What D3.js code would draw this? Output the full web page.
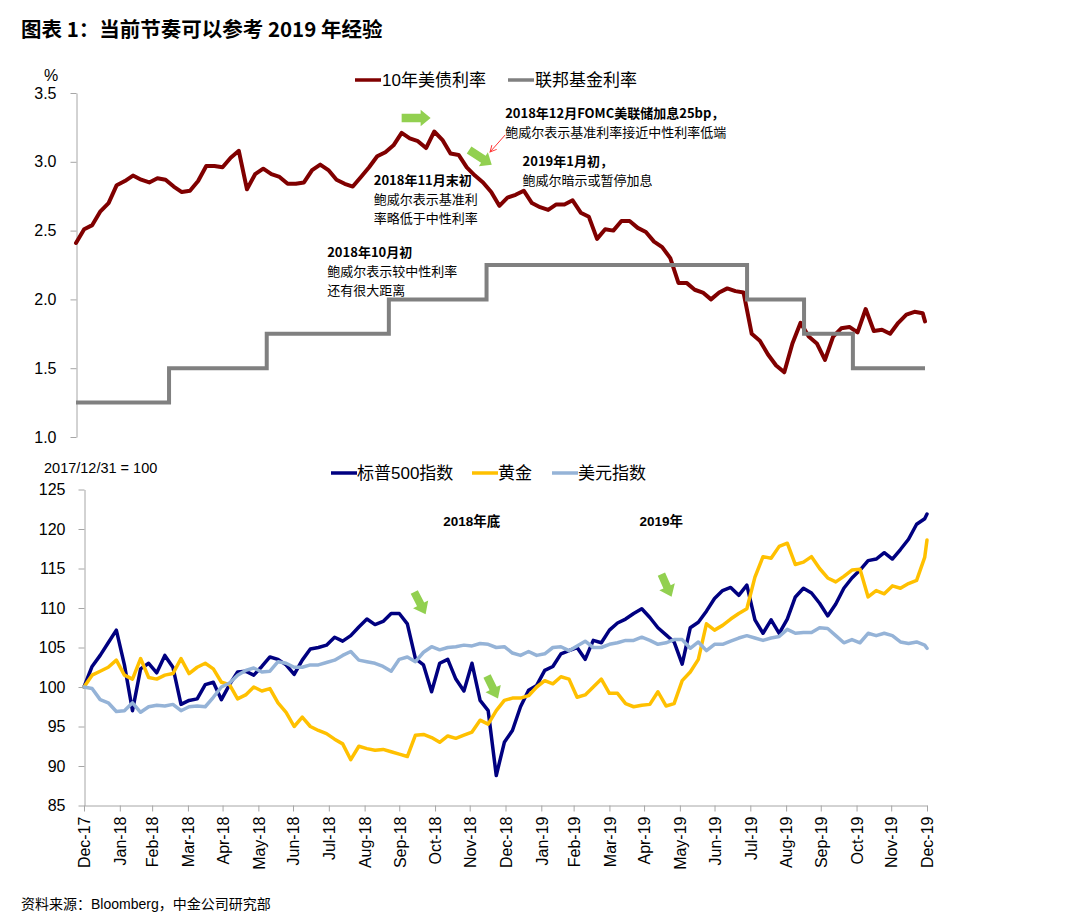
<!DOCTYPE html>
<html><head><meta charset="utf-8">
<script src="https://cdn.jsdelivr.net/npm/d3@7"></script>
<style>
body{margin:0;background:#fff;}
svg text{font-family:"Liberation Sans","Noto Sans CJK SC",sans-serif;fill:#000;}
</style></head><body>
<svg id="c" width="1080" height="921"></svg>
<script>
// ---------- DATA ----------
const weekDates = ["2017-12-31",
"2018-01-07","2018-01-14","2018-01-21","2018-01-28","2018-02-04","2018-02-11","2018-02-18","2018-02-25",
"2018-03-04","2018-03-11","2018-03-18","2018-03-25","2018-04-01","2018-04-08","2018-04-15","2018-04-22","2018-04-29",
"2018-05-06","2018-05-13","2018-05-20","2018-05-27","2018-06-03","2018-06-10","2018-06-17","2018-06-24",
"2018-07-01","2018-07-08","2018-07-15","2018-07-22","2018-07-29","2018-08-05","2018-08-12","2018-08-19","2018-08-26",
"2018-09-02","2018-09-09","2018-09-16","2018-09-23","2018-09-30","2018-10-07","2018-10-14","2018-10-21","2018-10-28",
"2018-11-04","2018-11-11","2018-11-18","2018-11-25","2018-12-02","2018-12-09","2018-12-16","2018-12-23","2018-12-30",
"2019-01-06","2019-01-13","2019-01-20","2019-01-27","2019-02-03","2019-02-10","2019-02-17","2019-02-24",
"2019-03-03","2019-03-10","2019-03-17","2019-03-24","2019-03-31","2019-04-07","2019-04-14","2019-04-21","2019-04-28",
"2019-05-05","2019-05-12","2019-05-19","2019-05-26","2019-06-02","2019-06-09","2019-06-16","2019-06-23","2019-06-30",
"2019-07-07","2019-07-14","2019-07-21","2019-07-28","2019-08-04","2019-08-11","2019-08-18","2019-08-25",
"2019-09-01","2019-09-08","2019-09-15","2019-09-22","2019-09-29","2019-10-06","2019-10-13","2019-10-20","2019-10-27",
"2019-11-03","2019-11-10","2019-11-17","2019-11-24","2019-12-01","2019-12-08","2019-12-15","2019-12-22","2019-12-29",
"2019-12-31"];

const yield10y = [2.41,2.51,2.54,2.64,2.70,2.83,2.86,2.90,2.87,2.85,
2.88,2.87,2.82,2.78,2.79,2.86,2.97,2.97,2.96,3.03,
3.08,2.80,2.91,2.95,2.91,2.89,2.84,2.84,2.85,2.94,
2.98,2.94,2.87,2.84,2.82,2.89,2.96,3.04,3.07,3.12,
3.21,3.17,3.15,3.10,3.22,3.16,3.06,3.05,2.96,2.90,
2.85,2.78,2.68,2.74,2.76,2.79,2.70,2.67,2.65,2.69,
2.69,2.72,2.63,2.60,2.44,2.51,2.50,2.57,2.57,2.52,
2.49,2.42,2.38,2.30,2.12,2.12,2.07,2.05,2.00,2.05,
2.08,2.06,2.05,1.75,1.70,1.60,1.52,1.47,1.68,1.83,
1.73,1.68,1.56,1.73,1.79,1.80,1.76,1.93,1.77,1.78,
1.75,1.83,1.89,1.91,1.90,1.84];

const fedDates = ["2017-12-31","2018-03-21","2018-06-13","2018-09-26","2018-12-19","2019-07-31","2019-09-18","2019-10-30","2019-12-31"];
const fedRates = [1.25,1.50,1.75,2.00,2.25,2.00,1.75,1.50,1.50];

const spx = [100.0,102.6,104.0,105.6,107.2,102.8,97.0,102.3,103.0,101.8,
104.0,102.5,97.8,98.3,98.5,100.3,100.6,98.4,100.3,101.9,
102.0,101.5,102.6,103.8,103.5,102.8,101.6,103.4,104.8,105.0,
105.3,106.3,105.8,106.5,107.6,108.6,107.9,108.3,109.3,109.3,
108.0,103.6,102.8,99.4,103.0,103.5,101.0,99.5,103.0,98.3,
97.0,88.8,93.0,94.5,97.5,99.6,100.2,102.1,102.6,104.2,
104.6,105.0,103.5,105.9,105.6,107.2,108.1,108.6,109.3,109.9,
108.8,107.5,106.6,105.7,102.9,107.5,108.2,109.6,111.2,112.2,
112.6,111.6,112.9,108.5,106.8,108.5,106.8,108.6,111.4,112.5,
111.9,110.6,109.0,110.5,112.5,113.8,114.8,116.0,116.2,117.0,
116.2,117.4,118.7,120.6,121.3,121.9];

const gold = [100.0,101.5,102.0,102.5,103.4,101.5,101.0,103.6,101.2,101.0,
101.5,101.7,103.6,101.7,102.5,103.0,102.3,100.6,100.3,98.5,
99.0,100.0,99.5,99.8,98.0,96.8,95.0,96.2,95.0,94.5,
94.1,93.4,92.8,90.8,92.5,92.2,92.0,92.1,91.8,91.5,
91.2,93.9,94.0,93.6,93.0,93.8,93.5,93.9,94.3,95.8,
95.3,97.0,98.3,98.6,98.6,98.9,100.0,100.8,100.4,101.3,
101.0,98.7,99.0,100.0,101.0,99.2,99.2,97.9,97.5,97.7,
97.8,99.4,97.6,97.9,100.8,101.9,103.5,108.0,107.2,107.8,
108.6,109.3,109.9,113.9,116.5,116.3,117.8,118.2,115.5,115.8,
116.5,115.0,113.8,113.3,114.0,114.8,114.9,111.4,112.2,111.8,
112.8,112.5,113.1,113.5,116.4,118.6];

const usd = [100.0,99.8,98.4,98.0,96.9,97.0,98.0,96.8,97.5,97.7,
97.6,97.8,97.0,97.5,97.6,97.5,98.7,100.0,100.5,101.5,
102.1,102.4,101.9,102.0,103.2,103.0,102.5,102.5,102.8,102.8,
103.1,103.4,104.0,104.5,103.4,103.2,103.0,102.6,102.0,103.5,
103.8,103.2,104.4,105.1,104.7,105.0,105.1,105.3,105.2,105.5,
105.4,105.0,105.1,104.3,104.0,104.5,104.0,104.2,105.0,105.1,
104.6,105.2,105.8,105.0,105.0,105.4,105.6,105.9,105.9,106.3,
105.9,105.4,105.6,106.0,106.0,104.9,105.7,104.6,105.4,105.4,
105.8,106.2,106.5,106.2,105.9,106.2,106.4,107.3,106.8,106.9,
106.9,107.5,107.4,106.5,105.6,106.0,105.6,106.8,106.5,106.8,
106.5,105.7,105.5,105.7,105.3,104.9];

const topTicks = [1.0,1.5,2.0,2.5,3.0,3.5];
const bottomTicks = [85,90,95,100,105,110,115,120,125];
const topSeriesNames = ["10年美债利率","联邦基金利率"];
const bottomSeriesNames = ["标普500指数","黄金","美元指数"];

// ---------- SETUP ----------
const parse = d3.timeParse("%Y-%m-%d");
const dates = weekDates.map(parse);
const svg = d3.select("#c");
const FONT = '"Liberation Sans","Noto Sans CJK SC",sans-serif';

const xTop = d3.scaleTime().domain([parse("2017-12-31"), parse("2019-12-31")]).range([76, 925]);
const yTop = d3.scaleLinear().domain([1, 3.5]).range([437, 93]);
const xBot = d3.scaleTime().domain([parse("2017-12-31"), parse("2019-12-31")]).range([84, 927]);
const yBot = d3.scaleLinear().domain([85, 125]).range([805.5, 489.5]);

// title
svg.append("text").attr("x", 21).attr("y", 37)
  .style("font-family", '"Noto Sans CJK SC",sans-serif').style("font-weight", "bold").style("font-size", "20.5px")
  .text("图表 1：当前节奏可以参考 2019 年经验");

// ---------- TOP CHART ----------
const gT = svg.append("g");
const axT = gT.append("g").attr("transform", "translate(76.5,0)")
  .call(d3.axisLeft(yTop).tickValues(topTicks).tickFormat(d3.format(".1f")).tickSize(6).tickPadding(14).tickSizeOuter(0));
axT.selectAll("path,line").attr("stroke", "#A6A6A6");
axT.selectAll("text").style("font-size", "16px").style("font-family", FONT).attr("fill", "#000");
gT.append("text").attr("x", 51).attr("y", 81).attr("text-anchor", "middle").style("font-size", "16px").text("%");

const yieldData = dates.map((d, i) => ({date: d, v: yield10y[i]}));
const fedData = fedDates.map((d, i) => ({date: parse(d), v: fedRates[i]}));
const lineTop = d3.line().x(d => xTop(d.date)).y(d => yTop(d.v));
gT.append("path").datum(yieldData).attr("d", lineTop)
  .attr("fill", "none").attr("stroke", "#800000").attr("stroke-width", 4).attr("stroke-linejoin", "round").attr("stroke-linecap", "round");
gT.append("path").datum(fedData).attr("d", d3.line().x(d => xTop(d.date)).y(d => yTop(d.v)).curve(d3.curveStepAfter))
  .attr("fill", "none").attr("stroke", "#808080").attr("stroke-width", 4);

// top legend
const legTop = [{x: 355, color: "#800000", name: topSeriesNames[0]}, {x: 508, color: "#808080", name: topSeriesNames[1]}];
legTop.forEach(l => {
  svg.append("line").attr("x1", l.x).attr("x2", l.x + 26).attr("y1", 80).attr("y2", 80).attr("stroke", l.color).attr("stroke-width", 3.5);
  svg.append("text").attr("x", l.x + 27).attr("y", 86).style("font-size", "17px").text(l.name);
});

// arrows
function arrowPath(L, bw, hw, hl) {
  return `M0,${-bw/2}L${L-hl},${-bw/2}L${L-hl},${-hw/2}L${L},0L${L-hl},${hw/2}L${L-hl},${bw/2}L0,${bw/2}Z`;
}
function greenArrow(x, y, angle, L) {
  svg.append("path").attr("d", arrowPath(L, 8.5, 16.5, 10))
    .attr("transform", `translate(${x},${y}) rotate(${angle})`).attr("fill", "#92D050");
}
greenArrow(xTop(parse("2018-10-07")), yTop(3.318), 0, 29);
greenArrow(xTop(parse("2018-12-04")), yTop(3.086), 33, 27);

// red thin arrow
svg.append("defs").append("marker").attr("id", "ah").attr("viewBox", "0 0 10 10").attr("refX", 9).attr("refY", 5)
  .attr("markerWidth", 8).attr("markerHeight", 8).attr("orient", "auto")
  .append("path").attr("d", "M1,1L9,5L1,9").attr("fill", "none").attr("stroke", "#FF3333").attr("stroke-width", 1.2);
svg.append("line").attr("x1", xTop(parse("2019-01-04"))).attr("y1", yTop(3.195))
  .attr("x2", xTop(parse("2018-12-22"))).attr("y2", yTop(3.071))
  .attr("stroke", "#FF3333").attr("stroke-width", 1).attr("marker-end", "url(#ah)");

// annotations (each line its own text element)
function annot(x, y, lines) {
  lines.forEach((ln, i) => {
    svg.append("text").attr("x", x).attr("y", y + i * 18.9)
      .style("font-size", "13px").style("font-weight", i === 0 ? "bold" : "normal")
      .style("font-family", '"Noto Sans CJK SC","Liberation Sans",sans-serif').text(ln);
  });
}
annot(xTop(parse("2019-01-04")), yTop(3.318), ["2018年12月FOMC美联储加息25bp，", "鲍威尔表示基准利率接近中性利率低端"]);
annot(xTop(parse("2019-01-19")), yTop(2.969), ["2019年1月初，", "鲍威尔暗示或暂停加息"]);
annot(xTop(parse("2018-09-13")), yTop(2.83), ["2018年11月末初", "鲍威尔表示基准利", "率略低于中性利率"]);
annot(xTop(parse("2018-08-04")), yTop(2.31), ["2018年10月初", "鲍威尔表示较中性利率", "还有很大距离"]);

// ---------- BOTTOM CHART ----------
const gB = svg.append("g");
const axBY = gB.append("g").attr("transform", "translate(84.5,0)")
  .call(d3.axisLeft(yBot).tickValues(bottomTicks).tickFormat(d3.format("d")).tickSize(6).tickPadding(13).tickSizeOuter(0));
axBY.selectAll("path,line").attr("stroke", "#A6A6A6");
axBY.selectAll("text").style("font-size", "16px").style("font-family", FONT).attr("fill", "#000");

const monthEnds = d3.timeMonth.range(new Date(2018, 0, 1), new Date(2020, 0, 2)).map(d => d3.timeDay.offset(d, -1));
const axBX = gB.append("g").attr("transform", "translate(0,805.5)")
  .call(d3.axisBottom(xBot).tickValues(monthEnds).tickFormat(d3.timeFormat("%b-%y")).tickSize(6).tickSizeOuter(0));
axBX.selectAll("path,line").attr("stroke", "#A6A6A6");
axBX.selectAll("text").style("font-size", "16px").style("font-family", FONT).attr("fill", "#000")
  .attr("transform", "rotate(-90)").attr("x", -11).attr("y", 0).attr("dy", "0.36em").style("text-anchor", "end");

svg.append("text").attr("x", 44).attr("y", 473).style("font-size", "14.5px").text("2017/12/31 = 100");

const lineBot = d3.line().x(d => xBot(d.date)).y(d => yBot(d.v));
const botSeries = [
  {vals: spx, color: "#000080"},
  {vals: gold, color: "#FFC000"},
  {vals: usd, color: "#95B3D7"}
];
botSeries.forEach(s => {
  gB.append("path").datum(dates.map((d, i) => ({date: d, v: s.vals[i]}))).attr("d", lineBot)
    .attr("fill", "none").attr("stroke", s.color).attr("stroke-width", 3.5).attr("stroke-linejoin", "round").attr("stroke-linecap", "round");
});

const legBot = [{x: 331, color: "#000080"}, {x: 472, color: "#FFC000"}, {x: 552, color: "#95B3D7"}];
legBot.forEach((l, i) => {
  svg.append("line").attr("x1", l.x).attr("x2", l.x + 26).attr("y1", 473).attr("y2", 473).attr("stroke", l.color).attr("stroke-width", 3.5);
  svg.append("text").attr("x", l.x + 26).attr("y", 479).style("font-size", "17px").text(bottomSeriesNames[i]);
});

svg.append("text").attr("x", xBot(parse("2018-11-07"))).attr("y", yBot(120.32)).style("font-size", "13.5px").style("font-weight", "bold").text("2018年底");
svg.append("text").attr("x", xBot(parse("2019-04-26"))).attr("y", yBot(120.32)).style("font-size", "13.5px").style("font-weight", "bold").text("2019年");

function greenArrowB(dateStr, v, angle) {
  svg.append("path").attr("d", arrowPath(25, 8, 17, 11))
    .attr("transform", `translate(${xBot(parse(dateStr))},${yBot(v)}) rotate(${angle})`).attr("fill", "#92D050");
}
greenArrowB("2018-10-13", 112.03, 63);
greenArrowB("2018-12-15", 101.39, 64);
greenArrowB("2019-05-15", 114.3, 66);

// source
svg.append("text").attr("x", 21).attr("y", 909).style("font-size", "14px").text("资料来源：Bloomberg，中金公司研究部");
</script>
</body></html>
